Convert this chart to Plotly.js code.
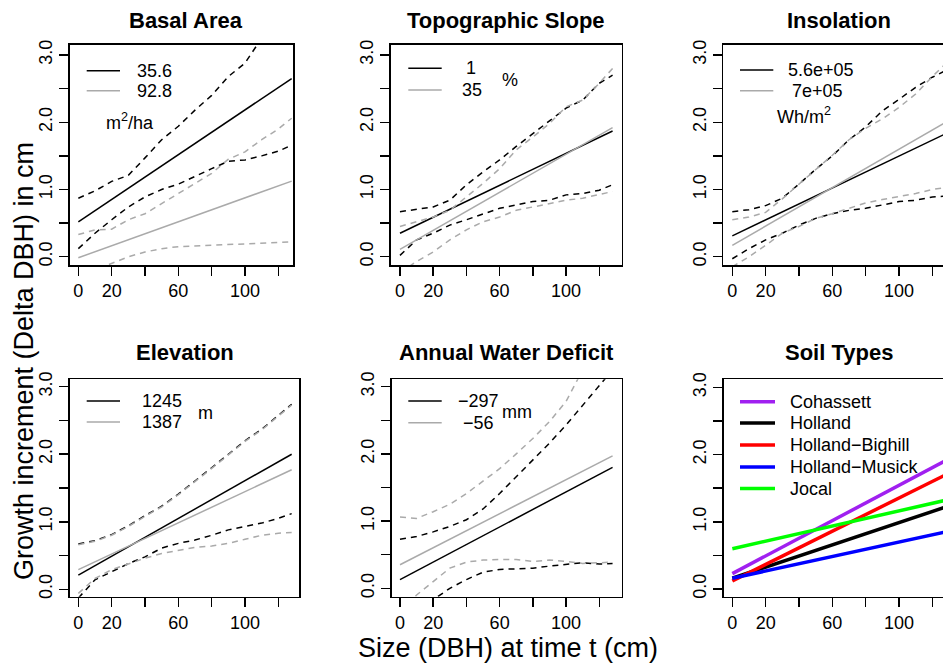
<!DOCTYPE html>
<html>
<head>
<meta charset="utf-8">
<script src="https://cdn.plot.ly/plotly-3.0.1.min.js"></script>
<style>html,body{margin:0;padding:0;background:#fff;}#chart{width:943px;height:667px;}</style>
</head>
<body>
<div id="chart"></div>
<script>
// ---------------- DATA ----------------
const sizeGrid = [0,10,20,30,40,50,60,70,80,90,100,110,120,128];
const fitEnds = [0,128];
const xTickVals = [0,20,40,60,80,100,120];
const xTickText = ['0','20','','60','','100',''];
const yTickVals = [0,0.5,1,1.5,2,2.5,3];
const yTickText = ['0.0','','1.0','','2.0','','3.0'];

const panelTitles = ['Basal Area','Topographic Slope','Insolation','Elevation','Annual Water Deficit','Soil Types'];

// Basal Area
const baLevels = ['35.6','92.8'];
const baBlackFit = [0.52, 2.65];
const baGrayFit = [-0.015, 1.125];
const baBlackUpper = [0.87,0.98,1.12,1.21,1.47,1.74,1.94,2.18,2.40,2.68,2.88,3.25,3.55,3.75];
const baBlackLower = [0.12,0.35,0.55,0.74,0.89,1.00,1.08,1.20,1.31,1.42,1.44,1.50,1.57,1.66];
const baGrayUpper = [0.33,0.40,0.41,0.55,0.64,0.79,0.94,1.09,1.24,1.45,1.56,1.74,1.90,2.06];
const baGrayLower = [-0.30,-0.20,-0.09,0.00,0.07,0.12,0.15,0.16,0.17,0.18,0.19,0.21,0.21,0.22];

// Topographic Slope
const tsLevels = ['1','35'];
const tsBlackFit = [0.35, 1.87];
const tsGrayFit = [0.11, 1.92];
const tsBlackUpper = [0.67,0.71,0.74,0.84,1.07,1.26,1.44,1.64,1.83,2.03,2.21,2.33,2.58,2.70];
const tsBlackLower = [0.02,0.25,0.35,0.47,0.55,0.64,0.72,0.77,0.82,0.84,0.92,0.94,0.99,1.07];
const tsGrayUpper = [0.45,0.52,0.59,0.69,0.89,1.09,1.31,1.59,1.78,1.98,2.23,2.33,2.58,2.80];
const tsGrayLower = [-0.24,-0.07,0.07,0.25,0.40,0.52,0.59,0.69,0.74,0.79,0.84,0.87,0.92,0.97];

// Insolation
const inLevels = ['5.6e+05','7e+05'];
const inBlackFit = [0.31, 1.83];
const inGrayFit = [0.17, 2.00];
const inBlackUpper = [0.67,0.70,0.76,0.87,1.08,1.30,1.50,1.74,1.93,2.17,2.34,2.52,2.67,2.77];
const inBlackLower = [-0.03,0.12,0.25,0.35,0.47,0.57,0.64,0.69,0.72,0.77,0.82,0.84,0.89,0.90];
const inGrayUpper = [0.55,0.59,0.66,0.86,1.08,1.29,1.51,1.74,1.91,2.05,2.22,2.42,2.68,2.87];
const inGrayLower = [-0.15,0.00,0.17,0.35,0.45,0.57,0.64,0.72,0.80,0.85,0.89,0.94,1.00,1.03];

// Elevation
const elLevels = ['1245','1387'];
const elBlackFit = [0.21, 2.00];
const elGrayFit = [0.29, 1.77];
const elBlackUpper = [0.67,0.72,0.81,0.94,1.09,1.23,1.41,1.60,1.80,2.00,2.20,2.37,2.57,2.74];
const elBlackLower = [-0.13,0.14,0.26,0.38,0.48,0.61,0.68,0.73,0.80,0.88,0.93,0.98,1.05,1.12];
const elGrayUpper = [0.66,0.71,0.80,0.93,1.08,1.22,1.40,1.59,1.79,1.99,2.19,2.36,2.56,2.73];
const elGrayLower = [-0.06,0.16,0.29,0.38,0.46,0.53,0.58,0.62,0.64,0.68,0.74,0.80,0.83,0.84];

// Annual Water Deficit
const wdLevels = ['\u2212297','\u221256'];
const wdBlackFit = [0.13, 1.80];
const wdGrayFit = [0.35, 1.97];
const wdBlackUpper = [0.73,0.77,0.84,0.92,1.02,1.18,1.41,1.66,1.91,2.16,2.43,2.72,3.02,3.25];
const wdBlackLower = [-0.45,-0.30,-0.17,0.00,0.13,0.24,0.28,0.29,0.30,0.33,0.36,0.38,0.36,0.37];
const wdGrayUpper = [1.06,1.04,1.14,1.25,1.41,1.59,1.78,2.00,2.23,2.48,2.78,3.25,3.60,3.90];
const wdGrayLower = [-0.35,-0.10,0.10,0.30,0.39,0.42,0.43,0.43,0.40,0.42,0.40,0.37,0.38,0.39];

// Soil Types
const soilNames = ['Cohassett','Holland','Holland\u2212Bighill','Holland\u2212Musick','Jocal'];
const soilColors = ['#A020F0','#000000','#FF0000','#0000FF','#00FF00'];
const soilStart = [0.23, 0.16, 0.12, 0.16, 0.60];
const soilEnd = [1.91, 1.22, 1.70, 0.85, 1.32];

// ---------------- LAYOUT HELPERS ----------------
const W = 943, H = 667;
const px = v => v / W;
const py = v => 1 - v / H;
const FONT = 'Liberation Sans, Arial, Helvetica, sans-serif';
const GRAY = '#aaaaaa';
const DASH = '6px,5px';
const LW = 1.5;
const TICKSIZE = 18;
const LEGSIZE = 18;

// panel boxes in pixels: [left, right, top, bottom], x range, y range
const panels = [
  {L:70,   R:293,   T:45,    B:265,   xr:[-5.0,128.8], yr:[-0.123,3.149], right:false},
  {L:391,  R:621.7, T:45,    B:265,   xr:[-5.4,133.5], yr:[-0.123,3.149], right:false},
  {L:723.3,R:943,   T:45,    B:265,   xr:[-5.4,126.4], yr:[-0.123,3.149], right:true},
  {L:70,   R:299,   T:379.3, B:596.7, xr:[-5.0,132.4], yr:[-0.110,3.110], right:false},
  {L:391.7,R:621.7, T:379.3, B:596.7, xr:[-5.0,133.5], yr:[-0.125,3.110], right:false},
  {L:724,  R:943,   T:379.3, B:596.7, xr:[-5.0,126.4], yr:[-0.114,3.120], right:true}
];

const layout = {
  width: W, height: H,
  margin: {l:0, r:0, t:0, b:0, pad:0},
  paper_bgcolor: '#ffffff', plot_bgcolor: '#ffffff',
  showlegend: false,
  font: {family: FONT, color: '#000'},
  annotations: [], shapes: []
};

panels.forEach((p, i) => {
  const n = i === 0 ? '' : String(i + 1);
  layout['xaxis' + n] = {
    domain: [px(p.L), Math.min(1, px(p.R))], range: p.xr, anchor: 'y' + n,
    tickmode: 'array', tickvals: xTickVals, ticktext: xTickText,
    ticks: 'outside', ticklen: 9, tickwidth: 1.5, tickcolor: '#000',
    showline: true, linecolor: '#000', linewidth: 1.6, mirror: true,
    showgrid: false, zeroline: false, fixedrange: true,
    tickfont: {size: TICKSIZE, color: '#000', family: FONT}
  };
  layout['yaxis' + n] = {
    domain: [py(p.B), py(p.T)], range: p.yr, anchor: 'x' + n,
    tickmode: 'array', tickvals: yTickVals, ticktext: yTickText, tickangle: -90,
    ticks: 'outside', ticklen: 9, tickwidth: 1.5, tickcolor: '#000',
    showline: true, linecolor: '#000', linewidth: 1.6, mirror: !p.right,
    showgrid: false, zeroline: false, fixedrange: true,
    tickfont: {size: TICKSIZE, color: '#000', family: FONT}
  };
});

// titles
const titlePos = [[186,20],[506.5,20],[838.5,20],[185,352],[506.5,352],[839,352]];
panelTitles.forEach((t, i) => {
  layout.annotations.push({xref:'paper', yref:'paper', x:px(titlePos[i][0]), y:py(titlePos[i][1]),
    xanchor:'center', yanchor:'middle', showarrow:false, text:'<b>'+t+'</b>',
    font:{size:22, color:'#000', family:FONT}});
});
// overall axis titles
layout.annotations.push({xref:'paper', yref:'paper', x:px(508.5), y:py(648), xanchor:'center', yanchor:'middle',
  showarrow:false, text:'Size (DBH) at time t (cm)', font:{size:27, color:'#000', family:FONT}});
layout.annotations.push({xref:'paper', yref:'paper', x:px(24), y:py(361), xanchor:'center', yanchor:'middle',
  showarrow:false, textangle:-90, text:'Growth increment (Delta DBH) in cm', font:{size:27, color:'#000', family:FONT}});

function seg(x0, x1, y, color, width) {
  layout.shapes.push({type:'line', xref:'paper', yref:'paper', x0:px(x0), x1:px(x1), y0:py(y), y1:py(y),
    line:{color:color, width:width}});
}
function label(x, y, text, size, anchor) {
  layout.annotations.push({xref:'paper', yref:'paper', x:px(x), y:py(y), xanchor:anchor || 'left', yanchor:'middle',
    showarrow:false, text:text, font:{size:size || LEGSIZE, color:'#000', family:FONT}});
}

// legends
// Basal area
seg(86.7,120,70.7,'#000',LW); seg(86.7,120,90.7,GRAY,LW);
label(135,70.7,baLevels[0]); label(135,90.7,baLevels[1]);
label(104,121,'m<sup>2</sup>/ha');
// Topographic slope
seg(408.3,441.7,68.3,'#000',LW); seg(408.3,441.7,90,GRAY,LW);
label(463.5,68.3,tsLevels[0]); label(459.5,90,tsLevels[1]);
label(500,80,'%');
// Insolation
seg(740,773.3,70,'#000',LW); seg(740,773.3,90.7,GRAY,LW);
label(786,70,inLevels[0]); label(789.5,90.7,inLevels[1]);
label(774.5,115,'Wh/m<sup>2</sup>');
// Elevation
seg(86.7,120,401,'#000',LW); seg(86.7,120,422,GRAY,LW);
label(140,401,elLevels[0]); label(140,422,elLevels[1]);
label(196,413,'m');
// Water deficit
seg(408.3,441.7,401,'#000',LW); seg(408.3,441.7,422.7,GRAY,LW);
label(456,401,wdLevels[0]); label(460.5,422.7,wdLevels[1]);
label(500,412,'mm');
// Soil types
const soilLegY = [401.7,423,445,467,488.5];
soilNames.forEach((s, k) => {
  seg(740,775,soilLegY[k],soilColors[k],3.5);
  label(788,soilLegY[k],s);
});

// ---------------- TRACES ----------------
const traces = [];
function addSet(ax, blackFit, grayFit, bU, bL, gU, gL) {
  const xa = 'x' + ax, ya = 'y' + ax;
  const base = {type:'scatter', mode:'lines', xaxis:xa, yaxis:ya, hoverinfo:'skip'};
  traces.push(Object.assign({}, base, {x:sizeGrid, y:bU, line:{color:'#000', width:LW, dash:DASH}}));
  traces.push(Object.assign({}, base, {x:sizeGrid, y:bL, line:{color:'#000', width:LW, dash:DASH}}));
  traces.push(Object.assign({}, base, {x:fitEnds, y:blackFit, line:{color:'#000', width:LW}}));
  traces.push(Object.assign({}, base, {x:sizeGrid, y:gU, line:{color:GRAY, width:LW, dash:DASH}}));
  traces.push(Object.assign({}, base, {x:sizeGrid, y:gL, line:{color:GRAY, width:LW, dash:DASH}}));
  traces.push(Object.assign({}, base, {x:fitEnds, y:grayFit, line:{color:GRAY, width:LW}}));
}
addSet('', baBlackFit, baGrayFit, baBlackUpper, baBlackLower, baGrayUpper, baGrayLower);
addSet('2', tsBlackFit, tsGrayFit, tsBlackUpper, tsBlackLower, tsGrayUpper, tsGrayLower);
addSet('3', inBlackFit, inGrayFit, inBlackUpper, inBlackLower, inGrayUpper, inGrayLower);
addSet('4', elBlackFit, elGrayFit, elBlackUpper, elBlackLower, elGrayUpper, elGrayLower);
addSet('5', wdBlackFit, wdGrayFit, wdBlackUpper, wdBlackLower, wdGrayUpper, wdGrayLower);
soilNames.forEach((s, k) => {
  traces.push({type:'scatter', mode:'lines', xaxis:'x6', yaxis:'y6', hoverinfo:'skip', name:s,
    x:fitEnds, y:[soilStart[k], soilEnd[k]], line:{color:soilColors[k], width:3.5}});
});

Plotly.newPlot('chart', traces, layout, {staticPlot:true, displayModeBar:false});
</script>
</body>
</html>
